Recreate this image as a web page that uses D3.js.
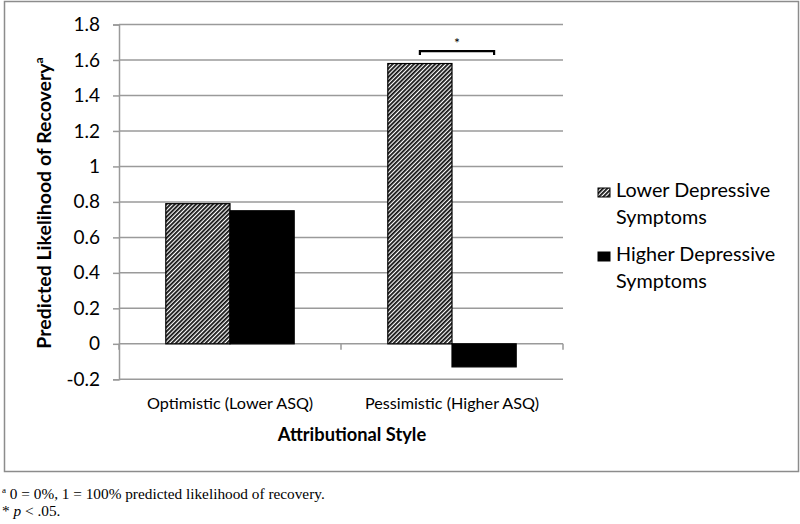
<!DOCTYPE html>
<html><head><meta charset="utf-8">
<script src="https://cdn.jsdelivr.net/npm/d3@7"></script>
<style>body{margin:0;background:#fff}svg{display:block}</style>
</head><body>
<svg id="c" width="800" height="524"></svg>
<script>
const categories = ["Optimistic (Lower ASQ)", "Pessimistic (Higher ASQ)"];
const seriesNames = ["Lower Depressive Symptoms", "Higher Depressive Symptoms"];
const lowerDep = [0.79, 1.58];
const higherDep = [0.75, -0.13];
const yTicks = [-0.2, 0, 0.2, 0.4, 0.6, 0.8, 1, 1.2, 1.4, 1.6, 1.8];
const yTickLabels = ["-0.2", "0", "0.2", "0.4", "0.6", "0.8", "1", "1.2", "1.4", "1.6", "1.8"];
const legendLines = [["Lower Depressive", "Symptoms"], ["Higher Depressive", "Symptoms"]];

const svg = d3.select("#c");
const font = "Lato, 'Open Sans', sans-serif";

const defs = svg.append("defs");
const pat = defs.append("pattern").attr("id", "hatch").attr("patternUnits", "userSpaceOnUse")
  .attr("width", 3).attr("height", 3).attr("patternTransform", "rotate(45)");
pat.append("rect").attr("width", 3).attr("height", 3).attr("fill", "#fff");
pat.append("rect").attr("width", 1.8).attr("height", 3).attr("fill", "#111");

// outer frame
svg.append("rect").attr("x", 4.5).attr("y", 1.5).attr("width", 794).attr("height", 470)
  .attr("fill", "none").attr("stroke", "#8c8c8c").attr("stroke-width", 1.5);

const x0 = d3.scaleBand().domain(categories).range([119, 563]).paddingInner(0).paddingOuter(0);
const y = d3.scaleLinear().domain([-0.2, 1.8]).range([379.3, 24.5]);
const x1 = d3.scaleBand().domain([0, 1]).range([0, x0.bandwidth()]).paddingOuter(93.6/2/64.2).paddingInner(0);

// gridlines
svg.append("g").selectAll("line").data(yTicks).join("line")
  .attr("x1", 119).attr("x2", 563).attr("y1", d => y(d)).attr("y2", d => y(d))
  .attr("stroke", "#9a9a9a").attr("stroke-width", 1.5);

// y axis
const yAxis = svg.append("g").attr("transform", "translate(119,0)")
  .call(d3.axisLeft(y).tickValues(yTicks).tickFormat((d, i) => yTickLabels[i]).tickSize(6).tickPadding(13));
yAxis.select(".domain").attr("stroke", "#9a9a9a").attr("stroke-width", 1.5);
yAxis.selectAll(".tick line").attr("stroke", "#9a9a9a").attr("stroke-width", 1.5);
yAxis.selectAll(".tick text").attr("font-family", font).attr("font-size", 19).attr("fill", "#000");

// bars
const data = categories.map((c, i) => ({c, vals: [lowerDep[i], higherDep[i]]}));
const g = svg.append("g").selectAll("g").data(data).join("g")
  .attr("transform", d => `translate(${x0(d.c)},0)`);
g.selectAll("rect").data(d => d.vals.map((v, k) => ({v, k}))).join("rect")
  .attr("x", d => x1(d.k)).attr("width", x1.bandwidth())
  .attr("y", d => y(Math.max(0, d.v))).attr("height", d => Math.abs(y(d.v) - y(0)))
  .attr("fill", d => d.k === 0 ? "url(#hatch)" : "#000")
  .attr("stroke", "#000").attr("stroke-width", 1.2);

// category axis at zero
const xAxis = svg.append("g").attr("transform", `translate(0,${y(0)})`);
xAxis.selectAll("line").data([119, 341, 563]).join("line")
  .attr("x1", d => d).attr("x2", d => d).attr("y1", 0).attr("y2", 6)
  .attr("stroke", "#9a9a9a").attr("stroke-width", 1.5);
svg.append("g").selectAll("text").data(categories).join("text")
  .attr("x", d => x0(d) + x0.bandwidth()/2).attr("y", 409)
  .attr("text-anchor", "middle").attr("font-family", font).attr("font-size", 16.2).text(d => d);

// significance bracket
const bx1 = x0(categories[1]) + x1(0) + x1.bandwidth()/2;
const bx2 = x0(categories[1]) + x1(1) + x1.bandwidth()/2 + 10;
const by = y(lowerDep[1]) - 12.5;
svg.append("path").attr("d", `M${bx1},${by + 4}V${by}H${bx2}V${by + 4}`)
  .attr("fill", "none").attr("stroke", "#000").attr("stroke-width", 2.2);
svg.append("text").attr("x", (bx1 + bx2)/2).attr("y", by - 3).attr("text-anchor", "middle")
  .attr("font-family", font).attr("font-size", 14).text("*");

// axis titles
svg.append("text").attr("x", 352).attr("y", 441).attr("text-anchor", "middle")
  .attr("font-family", font).attr("font-weight", "bold").attr("font-size", 18.3).text("Attributional Style");
const yt = svg.append("text").attr("transform", "translate(51,203) rotate(-90)").attr("text-anchor", "middle")
  .attr("font-family", font).attr("font-weight", "bold").attr("font-size", 19.5);
yt.append("tspan").text("Predicted Likelihood of Recovery");
yt.append("tspan").attr("font-size", 12).attr("dy", -8).text("a");

// legend
const lg = svg.append("g").selectAll("g").data(seriesNames).join("g")
  .attr("transform", (d, i) => `translate(598,${188 + i * 64})`);
lg.append("rect").attr("width", 12).attr("height", 9)
  .attr("fill", (d, i) => i === 0 ? "url(#hatch)" : "#000").attr("stroke", "#000").attr("stroke-width", 1);
lg.each(function(d, i) {
  const t = d3.select(this).append("text").attr("font-family", font).attr("font-size", 19.8);
  legendLines[i].forEach((ln, j) => t.append("tspan").attr("x", 18).attr("y", 9 + j * 27).text(ln));
});

// footnotes
const serif = "'Liberation Serif', 'Times New Roman', serif";
const f1 = svg.append("text").attr("x", 2).attr("y", 499).attr("font-family", serif).attr("font-size", 15.3);
f1.append("tspan").attr("font-size", 9).attr("dy", -6).text("a");
f1.append("tspan").attr("dy", 6).text(" 0 = 0%, 1 = 100% predicted likelihood of recovery.");
const f2 = svg.append("text").attr("x", 2).attr("y", 516).attr("font-family", serif).attr("font-size", 15.3);
f2.append("tspan").text("* ");
f2.append("tspan").attr("font-style", "italic").text("p");
f2.append("tspan").text(" < .05.");
</script>
</body></html>
